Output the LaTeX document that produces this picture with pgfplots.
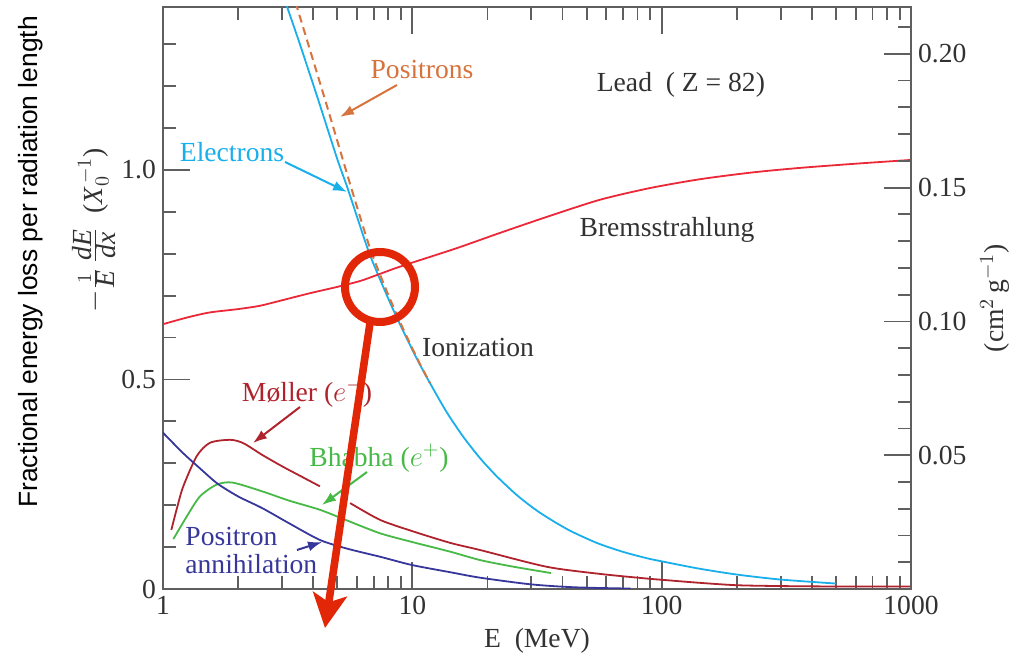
\documentclass[border=0pt]{standalone}
\usepackage{pgfplots}
\pgfplotsset{compat=1.18}
\usepackage{fontspec}
\setmainfont{Liberation Serif}
\newfontfamily\arialfont{Liberation Sans}
\usetikzlibrary{arrows.meta}
\definecolor{ecyan}{RGB}{25,175,235}
\definecolor{porange}{RGB}{215,115,60}
\definecolor{bred}{RGB}{235,40,55}
\definecolor{mred}{RGB}{175,35,45}
\definecolor{bgreen}{RGB}{70,185,70}
\definecolor{anavy}{RGB}{55,55,155}
\definecolor{overred}{RGB}{226,38,8}
\definecolor{axgray}{RGB}{95,95,95}
\definecolor{txtgray}{RGB}{50,50,50}
\newcommand\fs{\fontsize{13.8}{16}\selectfont}
\begin{document}
\begin{tikzpicture}
\useasboundingbox (0,0) rectangle (510pt,328pt);
\begin{axis}[
  at={(81.5pt,33.5pt)}, anchor=south west,
  scale only axis, width=374pt, height=291pt,
  xmode=log, xmin=1, xmax=1000, ymin=0, ymax=1.389,
  xtick={1,10,100,1000}, xticklabels={1,10,100,1000},
  ytick={0,0.5,1}, yticklabels={0,0.5,1.0},
  minor ytick={0.1,0.2,0.3,0.4,0.6,0.7,0.8,0.9,1.1,1.2,1.3},
  ytick pos=left, xtick pos=both,
  tick align=inside,
  major tick length=13.5pt, minor tick length=6.5pt,
  every tick/.append style={draw=axgray, line width=0.9pt},
  axis line style={draw=axgray, line width=1.3pt},
  tick label style={font=\fs, text=txtgray},
  xlabel={E\ \ (MeV)}, xlabel style={font=\fs, text=txtgray},
  every axis plot/.append style={line width=0.9pt, smooth, tension=0.45},
]
% Electrons (ionization, total)
\addplot[ecyan] coordinates {
(3.10,1.400) (3.5,1.309) (4.18,1.170) (5.0,1.026) (5.51,0.955) (6.63,0.811)
(7.42,0.739) (8.3,0.672) (9.2,0.615) (10.5,0.546) (11.78,0.491) (13.7,0.423)
(15.97,0.364) (18.7,0.312) (21.8,0.269) (26.5,0.222) (32.5,0.182) (42,0.142)
(54.9,0.110) (70,0.0886) (87,0.0736) (100,0.066) (140,0.049) (200,0.0345)
(300,0.0225) (500,0.013)};
% Positrons (dashed)
\addplot[porange, line width=1pt, dash pattern=on 4pt off 2.5pt] coordinates {
(3.40,1.400) (4.45,1.171) (5.71,0.954) (6.74,0.816) (7.54,0.740)
(8.3,0.680) (9.2,0.620) (10.5,0.548) (11.78,0.491)};
% Bremsstrahlung
\addplot[bred] coordinates {
(1.0,0.632) (1.25,0.648) (1.54,0.660) (2.0,0.668) (2.45,0.676) (3.0,0.689)
(3.89,0.706) (5.0,0.721) (6.17,0.735) (7.26,0.750) (8.5,0.765) (10,0.779)
(15,0.813) (22.5,0.850) (35,0.889) (56.6,0.929) (90,0.957) (142.6,0.978)
(230,0.994) (359,1.005) (600,1.015) (1000,1.024)};
% Moller (e-)
\addplot[mred] coordinates {
(1.08,0.141) (1.14,0.195) (1.206,0.245) (1.365,0.317) (1.543,0.349)
(1.86,0.356) (2.1,0.348) (2.5,0.320) (3.0,0.293) (3.6,0.268) (4.26,0.245)};
\addplot[mred] coordinates {
(5.63,0.205) (7.42,0.165) (10,0.138) (14.2,0.110) (18.7,0.093) (34.6,0.053)
(56.6,0.036) (87,0.025) (100,0.022) (140,0.015) (200,0.009) (300,0.007)
(500,0.006) (1000,0.006)};
% Bhabha (e+)
\addplot[bgreen] coordinates {
(1.10,0.119) (1.245,0.173) (1.407,0.221) (1.64,0.249) (1.9,0.254)
(2.5,0.233) (3.2,0.211) (4.26,0.189) (5.5,0.163) (7.42,0.133) (10,0.112)
(14.2,0.089) (18.7,0.069) (25,0.054) (36,0.038)};
% Positron annihilation
\addplot[anavy] coordinates {
(1.0,0.373) (1.2,0.325) (1.4,0.289) (1.65,0.252) (2.0,0.221) (2.5,0.193)
(3.2,0.157) (4.26,0.117) (5.5,0.096) (7.42,0.077) (10,0.057) (14.2,0.040)
(18.7,0.027) (30,0.011) (45,0.004) (75,0.001)};
\end{axis}
\begin{axis}[
  at={(81.5pt,33.5pt)}, anchor=south west,
  scale only axis, width=374pt, height=291pt,
  xmode=log, xmin=1, xmax=1000, ymin=0, ymax=0.2175,
  hide x axis, axis y line*=right,
  ytick={0.05,0.1,0.15,0.2}, yticklabels={0.05,0.10,0.15,0.20},
  minor ytick={0.01,0.02,0.03,0.04,0.06,0.07,0.08,0.09,0.11,0.12,0.13,0.14,0.16,0.17,0.18,0.19,0.21},
  tick align=inside,
  major tick length=13.5pt, minor tick length=6.5pt,
  every tick/.append style={draw=axgray, line width=0.9pt},
  axis line style={draw=axgray, line width=1.3pt},
  tick label style={font=\fs, text=txtgray},
  ylabel={(cm$^{2}$\,g$^{-1}$)}, ylabel style={font=\fs, text=txtgray},
]
\end{axis}
\begin{scope}[x=0.5pt,y=-0.5pt,shift={(0pt,328pt)}]
  % left labels
  \node[rotate=90, font=\arialfont\fontsize{13.2}{15}\selectfont, text=black] at (31,262) {Fractional energy loss per radiation length};
  \node[rotate=90, font=\fs, text=txtgray] at (94,230) {$-\frac{1}{\textit{E}}\,\frac{\textit{dE}}{\textit{dx}}$\ \ (\textit{X}$_0^{\,-1}$)};
  % annotations
  \node[font=\fs, text=porange] at (422,70) {Positrons};
  \draw[porange, line width=1pt, -{Latex[length=7pt,width=5pt]}] (397,85) -- (340,117);
  \node[font=\fs, text=ecyan] at (232,152) {Electrons};
  \draw[ecyan, line width=1pt, -{Latex[length=7pt,width=5pt]}] (285,162) -- (347,192);
  \node[font=\fs, text=txtgray, anchor=east] at (772,85) {Lead \ ( Z = 82)};
  \node[font=\fs, text=txtgray] at (667,230) {Bremsstrahlung};
  \node[font=\fs, text=txtgray] at (478,348) {Ionization};
  \node[font=\fs, text=mred] at (307,393) {M\o ller ($e^{-}$)};
  \draw[mred, line width=1pt, -{Latex[length=7pt,width=5pt]}] (300,407) -- (253,443);
  \node[font=\fs, text=bgreen] at (379,458) {Bhabha ($e^{+}$)};
  \draw[bgreen, line width=1pt, -{Latex[length=7pt,width=5pt]}] (367,472) -- (322,505);
  \node[font=\fs, text=anavy, anchor=west, align=left, inner sep=0pt] at (185,551) {Positron\\[-2pt]annihilation};
  \draw[anavy, line width=1pt, -{Latex[length=7pt,width=5pt]}] (297,550) -- (322,542);
  % red overlay
  \draw[overred, line width=4pt] (380,287) circle [radius=17.5pt];
  \draw[overred, line width=3.8pt, -{Stealth[length=17pt,width=17pt,inset=4pt]}] (370,323) -- (325,628);
\end{scope}
\end{tikzpicture}
\end{document}
